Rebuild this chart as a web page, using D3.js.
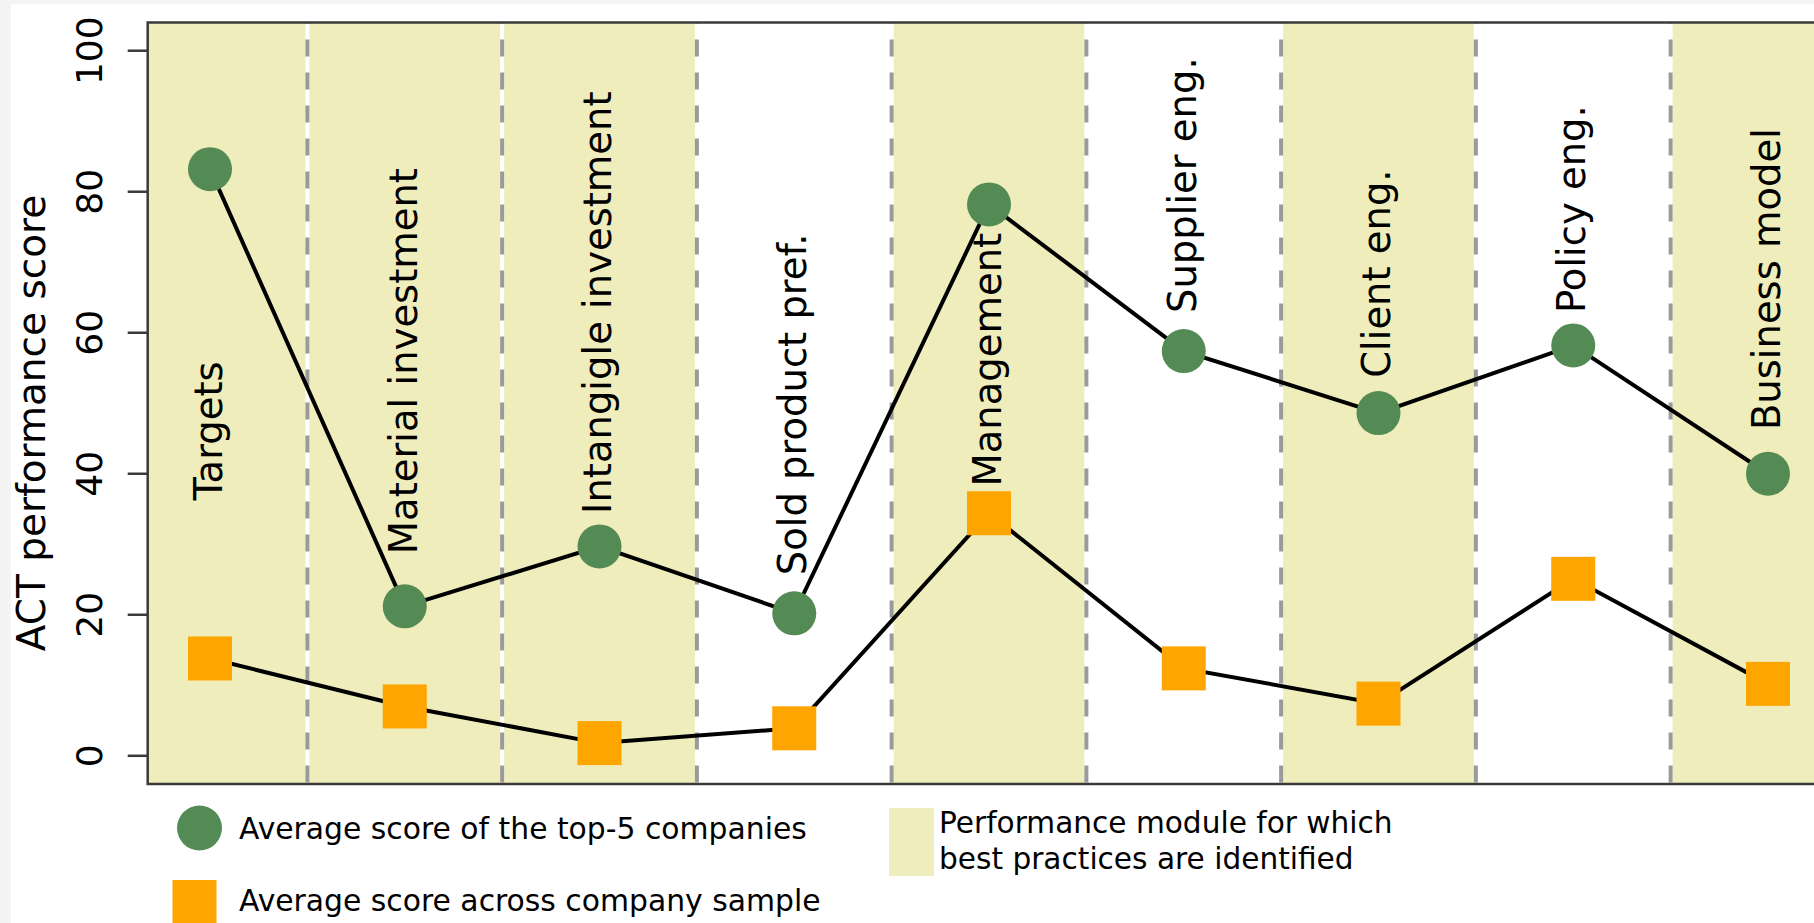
<!DOCTYPE html>
<html>
<head>
<meta charset="utf-8">
<script src="https://cdn.jsdelivr.net/npm/d3@7"></script>
<style>
body { margin: 0; background: #f4f4f4; overflow: hidden; }
text { font-family: "DejaVu Sans", Verdana, sans-serif; fill: #000; }
</style>
</head>
<body>
<script>

// values
var categories = ["Targets", "Material investment", "Intangigle investment", "Sold product pref.",
  "Management", "Supplier eng.", "Client eng.", "Policy eng.", "Business model"]
var top5 = [83.2, 21.2, 29.7, 20.2, 78.2, 57.4, 48.6, 58.2, 40.0]
var sample = [13.8, 7.0, 1.8, 3.9, 34.4, 12.4, 7.4, 25.1, 10.2]
var bestPractice = [1, 1, 1, 0, 1, 0, 1, 0, 1]
var labelAt = [36.2, 28.6, 34.3, 25.6, 38.2, 62.8, 53.6, 62.8, 46.2]
var yTicks = [0, 20, 40, 60, 80, 100]

var W = 1814, H = 923
var plotL = 147.7, plotR = 1830.3, plotT = 22.5, plotB = 784

var svg = d3.select("body").append("svg")
  .attr("width", W)
  .attr("height", H)

// page frame
svg.append("rect").attr("x", 0).attr("y", 0).attr("width", W).attr("height", H).attr("fill", "#f4f4f4")
svg.append("rect").attr("x", 11).attr("y", 4).attr("width", W - 11).attr("height", H - 4).attr("fill", "#fff")

var x = d3.scaleLinear().domain([0.68, 9.32]).range([plotL, plotR])
var y = d3.scaleLinear().domain([-4, 104]).range([plotB, plotT])

svg.append("clipPath").attr("id", "plotClip")
  .append("rect").attr("x", plotL).attr("y", plotT).attr("width", plotR - plotL).attr("height", plotB - plotT)

var plot = svg.append("g").attr("clip-path", "url(#plotClip)")

// shaded modules
plot.selectAll(".band")
  .data(categories.map(function(c, i) { return { i: i + 1, on: bestPractice[i] } }).filter(function(d) { return d.on }))
  .enter().append("rect")
  .attr("class", "band")
  .attr("x", function(d) { return x(d.i - 0.5) })
  .attr("y", plotT)
  .attr("width", function(d) { return x(d.i + 0.5) - x(d.i - 0.5) })
  .attr("height", plotB - plotT)
  .attr("fill", "#efedbb")

// separators
var seps = d3.range(1.5, 9, 1)
plot.selectAll(".sepw").data(seps).enter().append("line")
  .attr("x1", function(d) { return x(d) }).attr("x2", function(d) { return x(d) })
  .attr("y1", plotT).attr("y2", plotB)
  .attr("stroke", "#fff").attr("stroke-width", 4)
plot.selectAll(".sep").data(seps).enter().append("line")
  .attr("x1", function(d) { return x(d) }).attr("x2", function(d) { return x(d) })
  .attr("y1", plotT).attr("y2", plotB)
  .attr("stroke", "#9a9a9a").attr("stroke-width", 4)
  .attr("stroke-dasharray", "17,16").attr("stroke-dashoffset", 16)

// lines
var line = d3.line()
  .x(function(d, i) { return x(i + 1) })
  .y(function(d) { return y(d) })

plot.append("path").datum(top5).attr("d", line)
  .attr("fill", "none").attr("stroke", "#000").attr("stroke-width", 4)
plot.append("path").datum(sample).attr("d", line)
  .attr("fill", "none").attr("stroke", "#000").attr("stroke-width", 4)

// category labels
plot.selectAll(".catlbl").data(categories).enter().append("text")
  .attr("class", "catlbl")
  .attr("transform", function(d, i) { return "translate(" + (x(i + 1) - 2) + "," + y(labelAt[i]) + ") rotate(-90)" })
  .attr("dy", "0.36em")
  .attr("font-size", 38.5)
  .text(function(d) { return d })

// markers
plot.selectAll(".dot").data(top5).enter().append("circle")
  .attr("cx", function(d, i) { return x(i + 1) })
  .attr("cy", function(d) { return y(d) })
  .attr("r", 22)
  .attr("fill", "#548b54")

plot.selectAll(".sq").data(sample).enter().append("rect")
  .attr("x", function(d, i) { return x(i + 1) - 22 })
  .attr("y", function(d) { return y(d) - 22 })
  .attr("width", 44).attr("height", 44)
  .attr("fill", "#ffa500")

// frame of the plot
svg.append("path")
  .attr("d", "M" + plotR + "," + plotT + "H" + plotL + "V" + plotB + "H" + plotR)
  .attr("fill", "none").attr("stroke", "#3a3a3a").attr("stroke-width", 2.5)

// y axis
var yAxis = svg.append("g")
yAxis.selectAll(".tick").data(yTicks).enter().append("line")
  .attr("x1", plotL - 20).attr("x2", plotL)
  .attr("y1", function(d) { return y(d) }).attr("y2", function(d) { return y(d) })
  .attr("stroke", "#3a3a3a").attr("stroke-width", 2.5)
yAxis.selectAll(".tlbl").data(yTicks).enter().append("text")
  .attr("transform", function(d) { return "translate(89," + y(d) + ") rotate(-90)" })
  .attr("text-anchor", "middle")
  .attr("dy", "0.36em")
  .attr("font-size", 36)
  .text(function(d) { return d })

svg.append("text")
  .attr("transform", "translate(31,423) rotate(-90)")
  .attr("text-anchor", "middle")
  .attr("dy", "0.36em")
  .attr("font-size", 39)
  .text("ACT performance score")

// legend
var legend = svg.append("g")
legend.append("circle").attr("cx", 199.5).attr("cy", 828).attr("r", 22.5).attr("fill", "#548b54")
legend.append("text").attr("x", 239).attr("y", 828).attr("dy", "0.36em").attr("font-size", 29.8)
  .text("Average score of the top-5 companies")
legend.append("rect").attr("x", 172.5).attr("y", 880).attr("width", 44).attr("height", 44).attr("fill", "#ffa500")
legend.append("text").attr("x", 239).attr("y", 900).attr("dy", "0.36em").attr("font-size", 29.8)
  .text("Average score across company sample")
legend.append("rect").attr("x", 889).attr("y", 808).attr("width", 45).attr("height", 68).attr("fill", "#efedbb")
legend.append("text").attr("x", 939).attr("y", 822).attr("dy", "0.36em").attr("font-size", 29.6)
  .text("Performance module for which")
legend.append("text").attr("x", 939).attr("y", 858).attr("dy", "0.36em").attr("font-size", 29.6)
  .text("best practices are identified")

</script>
</body>
</html>
